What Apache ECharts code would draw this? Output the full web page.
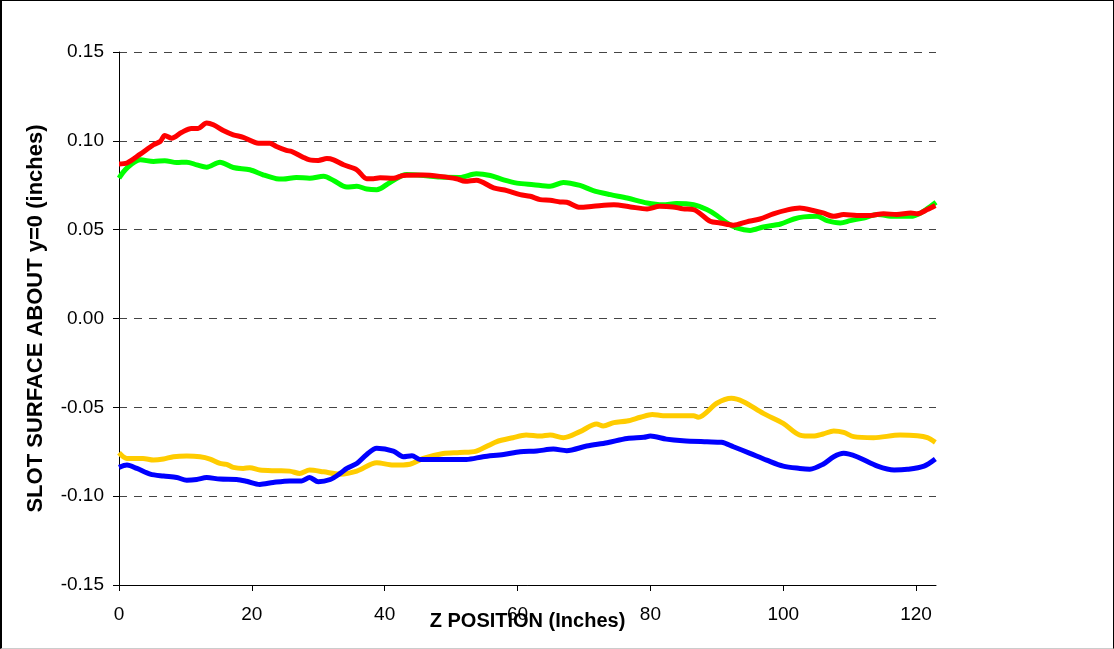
<!DOCTYPE html>
<html>
<head>
<meta charset="utf-8">
<script src="https://cdn.jsdelivr.net/npm/echarts@6/dist/echarts.min.js"></script>
<style>
  body { margin: 0; background: #fff; }
  #container { position: absolute; left: 0; top: 0; width: 1114px; height: 649px; }
  #frame { position: absolute; left: 0; top: 0; width: 1114px; height: 649px; box-sizing: border-box;
           border-left: 2px solid #000; border-top: 1px solid #000; border-right: 1px solid #000;
           border-bottom: 1px solid #ccc; pointer-events: none; }
</style>
</head>
<body>
<div id="container"></div>
<div id="frame"></div>
<script>
// [z position (inches), surface (inches)]
var greenData = [
  [0, 0.079], [1.2, 0.0847], [3.2, 0.0893], [5.2, 0.0884], [6.9, 0.0888], [8.7, 0.0878],
  [10.2, 0.088], [11.7, 0.0865], [13.2, 0.0852], [15.2, 0.088], [17.2, 0.085], [19.7, 0.0837],
  [21.7, 0.0809], [23.7, 0.0787], [24.7, 0.0785], [26.7, 0.0794], [28.7, 0.079], [30.8, 0.080],
  [32.3, 0.0777], [34.3, 0.074], [35.8, 0.0744], [37.3, 0.0729], [38.8, 0.0725], [40.8, 0.0766],
  [43.3, 0.081], [45.8, 0.0805], [48.3, 0.0796], [51.3, 0.0794], [53.8, 0.0815], [55.9, 0.0805],
  [57.9, 0.078], [59.9, 0.0762], [62.4, 0.0753], [64.9, 0.0744], [66.9, 0.0766], [69.4, 0.0749],
  [71.4, 0.072], [74, 0.0697], [76.5, 0.0678], [79.5, 0.065], [81.9, 0.064], [83.9, 0.0647],
  [86.5, 0.064], [88.5, 0.0613], [90, 0.058], [91.5, 0.0538], [93, 0.051], [95, 0.0496],
  [97, 0.0515], [99.6, 0.0532], [101.6, 0.056], [103.1, 0.0572], [105.1, 0.0575], [106.6, 0.0551],
  [108.6, 0.0538], [110.1, 0.0551], [112.1, 0.0566], [114.2, 0.0585], [116.7, 0.0575], [119.2, 0.0575],
  [120.7, 0.0594], [122.2, 0.0632], [123, 0.0654]
];
var redData = [
  [0, 0.087], [1.2, 0.0875], [3.2, 0.0925], [5.2, 0.0978], [6.2, 0.0996], [6.9, 0.103],
  [7.9, 0.1015], [9.4, 0.1047], [10.9, 0.107], [11.9, 0.107], [13.2, 0.110], [14.2, 0.109],
  [15.7, 0.1058], [17.2, 0.1034], [18.7, 0.102], [21, 0.0987], [22.7, 0.0987], [23.7, 0.0968],
  [25.2, 0.0946], [26, 0.094], [27.7, 0.0908], [28.7, 0.0893], [30, 0.089], [31.3, 0.090],
  [32.3, 0.0893], [33.8, 0.0865], [35.8, 0.0837], [37.3, 0.0787], [38.3, 0.0787], [39.3, 0.0792],
  [41.3, 0.079], [42.8, 0.0805], [45.8, 0.0807], [48.3, 0.080], [50.8, 0.0787], [52.1, 0.0772],
  [53.8, 0.0778], [56.4, 0.0735], [58.4, 0.072], [60.4, 0.0697], [61.9, 0.0688], [63.4, 0.0669],
  [64.9, 0.0665], [66.4, 0.0656], [67.4, 0.0654], [69.4, 0.0626], [71.4, 0.0632], [74.5, 0.064],
  [77, 0.0628], [79.5, 0.0617], [81.4, 0.0632], [83.4, 0.0628], [84.9, 0.0617], [86.5, 0.0613],
  [89, 0.0547], [90.5, 0.0538], [92.5, 0.0525], [94.5, 0.0544], [96.5, 0.056], [98.5, 0.0589],
  [100.5, 0.061], [102.5, 0.0622], [104.5, 0.0608], [106, 0.0594], [107.6, 0.0575], [109.1, 0.0585],
  [111.1, 0.058], [113.1, 0.058], [115.1, 0.059], [117.1, 0.0585], [119.2, 0.0594], [120.2, 0.0589],
  [121.7, 0.0613], [122.9, 0.0636]
];
var yellowData = [
  [0, -0.0756], [1.2, -0.0788], [3.6, -0.0788], [5.2, -0.0797], [6.7, -0.0791], [8.2, -0.0778],
  [10.2, -0.0774], [12.2, -0.0778], [13.7, -0.0791], [15.2, -0.0816], [16.2, -0.0821], [17.2, -0.0838],
  [18.7, -0.0844], [19.7, -0.084], [21.2, -0.0853], [23.7, -0.0857], [25.7, -0.0859], [27.2, -0.0872],
  [28.7, -0.0853], [30.8, -0.0863], [33.3, -0.0876], [35.8, -0.0859], [38.8, -0.0812], [41.3, -0.0825],
  [43.8, -0.082], [45.8, -0.0788], [48.8, -0.076], [51.3, -0.0754], [53.8, -0.0746], [56.8, -0.0694],
  [59.3, -0.0671], [61.3, -0.0656], [63.4, -0.0662], [64.9, -0.0656], [66.9, -0.0671], [69.4, -0.0637],
  [71.9, -0.0594], [72.9, -0.0605], [74.5, -0.0586], [76.5, -0.0577], [78.5, -0.0556], [80.3, -0.054],
  [81.9, -0.0547], [84.4, -0.0547], [86.5, -0.0547], [87.2, -0.0556], [90, -0.0477], [92.2, -0.0449],
  [94, -0.0468], [97, -0.0534], [100, -0.059], [102.5, -0.0656], [104.5, -0.0662], [106, -0.065],
  [107.6, -0.0633], [109.1, -0.0641], [110.6, -0.0665], [113.6, -0.0671], [117.6, -0.0656], [120.2, -0.066],
  [121.7, -0.0671], [122.9, -0.0697]
];
var blueData = [
  [0, -0.0838], [1.2, -0.0825], [2.7, -0.0844], [4.7, -0.0876], [6.7, -0.0887], [8.7, -0.0895],
  [10.2, -0.091], [11.7, -0.0906], [13.2, -0.0895], [15.2, -0.0904], [17.7, -0.0906], [19.2, -0.0916],
  [21.2, -0.0934], [23.2, -0.0923], [25.7, -0.0914], [27.5, -0.0914], [28.7, -0.0895], [30, -0.0919],
  [31.8, -0.0906], [33.3, -0.0872], [34.3, -0.0844], [35.8, -0.0816], [37.3, -0.0765], [38.8, -0.0731],
  [41.3, -0.0746], [42.8, -0.0778], [44.1, -0.0772], [45.3, -0.0793], [48.3, -0.0793], [52.3, -0.0793],
  [54.8, -0.0778], [57.9, -0.0765], [60.4, -0.075], [62.9, -0.0746], [65.4, -0.0735], [67.4, -0.0744],
  [70.4, -0.0718], [73.5, -0.0699], [76.5, -0.0675], [79, -0.0669], [80, -0.0662], [82.4, -0.0679],
  [84.9, -0.0688], [88.5, -0.0694], [90.7, -0.0697], [92.5, -0.0722], [95, -0.0759], [97.5, -0.0797],
  [100, -0.0831], [102.5, -0.0844], [104, -0.0848], [106, -0.082], [107.6, -0.0778], [109.1, -0.0759],
  [111.1, -0.0778], [114.2, -0.0831], [116.7, -0.0853], [118.7, -0.0849], [121.2, -0.0831], [122.9, -0.0791]
];

var dom = document.getElementById('container');
var myChart = echarts.init(dom);

function lineSeries(data, color) {
  return {
    type: 'line',
    data: data,
    showSymbol: false,
    smooth: 0.3,
    lineStyle: { color: color, width: 5 },
    itemStyle: { color: color }
  };
}

var option = {
  animation: false,
  backgroundColor: '#fff',
  grid: { left: 119, right: 178, top: 52, bottom: 64, outerBoundsMode: 'none' },
  xAxis: {
    type: 'value',
    min: 0,
    max: 123,
    interval: 20,
    name: 'Z POSITION (Inches)',
    nameLocation: 'middle',
    nameGap: 26,
    nameMoveOverlap: false,
    nameTextStyle: { fontFamily: 'Liberation Sans', fontWeight: 'bold', fontSize: 20, color: '#000' },
    axisLine: { onZero: false, lineStyle: { color: '#000', width: 1 } },
    axisTick: { show: true, length: 6, lineStyle: { color: '#000' } },
    axisLabel: { fontFamily: 'Liberation Sans', fontSize: 19, color: '#000', margin: 20 },
    splitLine: { show: false }
  },
  yAxis: {
    type: 'value',
    min: -0.15,
    max: 0.15,
    interval: 0.05,
    name: 'SLOT SURFACE ABOUT y=0 (inches)',
    nameLocation: 'middle',
    nameGap: 72,
    nameMoveOverlap: false,
    nameTextStyle: { fontFamily: 'Liberation Sans', fontWeight: 'bold', fontSize: 22, color: '#000' },
    axisLine: { show: true, onZero: false, lineStyle: { color: '#000', width: 1 } },
    axisTick: { show: true, length: 6, lineStyle: { color: '#000' } },
    axisLabel: {
      fontFamily: 'Liberation Sans', fontSize: 19, color: '#000', margin: 15,
      formatter: function (v) { return v.toFixed(2); }
    },
    splitLine: { show: true, lineStyle: { color: '#444', type: [8, 7], width: 1 } }
  },
  series: [
    lineSeries(greenData, '#00FF00'),
    lineSeries(redData, '#FF0000'),
    lineSeries(yellowData, '#FFCC00'),
    lineSeries(blueData, '#0000FF')
  ]
};
myChart.setOption(option);
</script>
</body>
</html>
